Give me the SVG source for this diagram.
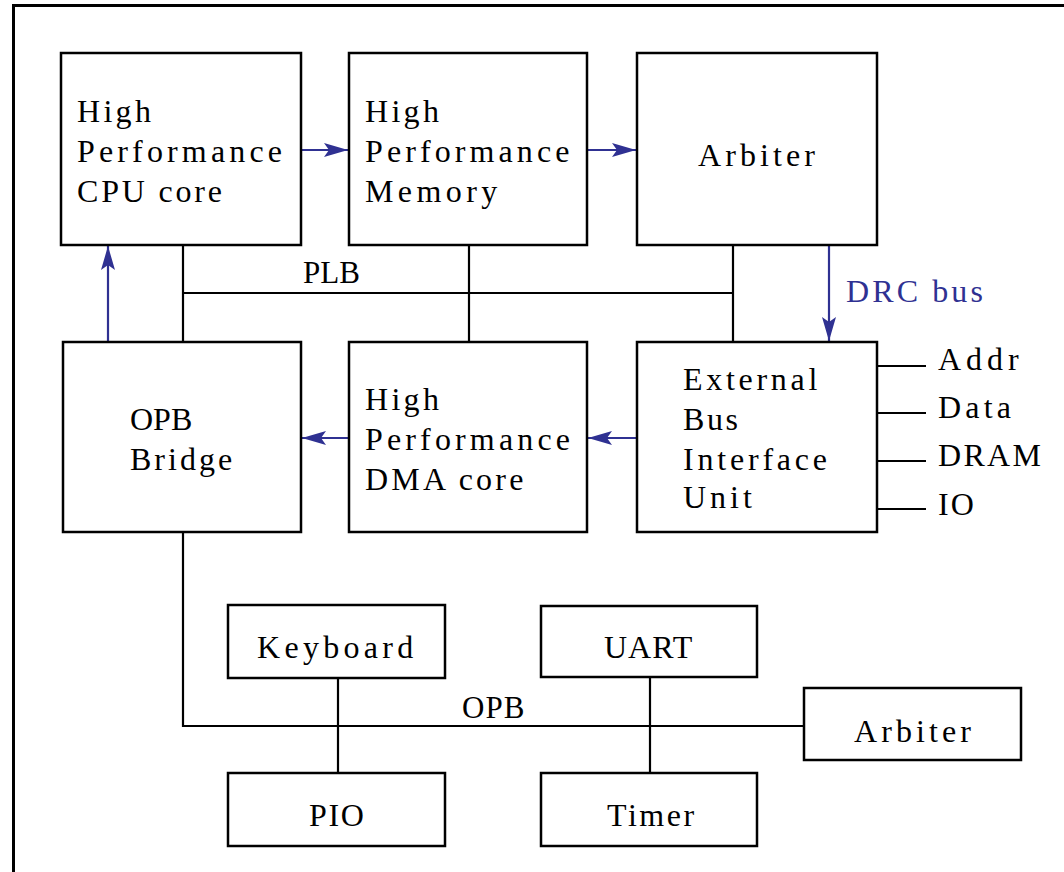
<svg xmlns="http://www.w3.org/2000/svg" width="1064" height="872" viewBox="0 0 1064 872">
<defs>
<style>
.box{fill:#fff;stroke:#000;stroke-width:2.5}
.ln{fill:none;stroke:#000;stroke-width:2.2}
.bl{fill:none;stroke:#2f3192;stroke-width:2.2}
</style>
<marker id="ah" viewBox="0 0 24 14" refX="24" refY="7" markerWidth="24" markerHeight="14" orient="auto" markerUnits="userSpaceOnUse">
<path d="M0,0 L24,7 L0,14 L5,7 Z" fill="#2f3192"/>
</marker>
</defs>
<rect x="0" y="0" width="1064" height="872" fill="#fff"/>
<rect x="13.5" y="5.5" width="1100" height="900" fill="none" stroke="#000" stroke-width="3"/>

<g id="connectors">
<path class="ln" d="M183,245 V342 M469,245 V342 M733,245 V342 M183,293 H733"/>
<path class="ln" d="M183,532 V726 H804 M338,678 V773 M650,677 V773"/>
<path class="ln" d="M877,366 H926 M877,413 H926 M877,461 H926 M877,509 H926"/>
<path class="bl" d="M301,150 H348" marker-end="url(#ah)"/>
<path class="bl" d="M587,150 H636" marker-end="url(#ah)"/>
<path class="bl" d="M829,245 V341" marker-end="url(#ah)"/>
<path class="bl" d="M637,438 H588" marker-end="url(#ah)"/>
<path class="bl" d="M349,438 H302" marker-end="url(#ah)"/>
<path class="bl" d="M108,342 V246" marker-end="url(#ah)"/>
<text font-family="Liberation Serif, serif" font-size="31" x="303" y="283">PLB</text>
<text font-family="Liberation Serif, serif" font-size="31" x="462" y="718" letter-spacing="1">OPB</text>
<text font-family="Liberation Serif, serif" font-size="32" fill="#2f3192" x="846" y="302" letter-spacing="3.1">DRC bus</text>
<text font-family="Liberation Serif, serif" font-size="32" x="938" y="370" letter-spacing="5">Addr</text>
<text font-family="Liberation Serif, serif" font-size="32" x="938" y="418" letter-spacing="4.2">Data</text>
<text font-family="Liberation Serif, serif" font-size="32" x="938" y="466" letter-spacing="2.3">DRAM</text>
<text font-family="Liberation Serif, serif" font-size="32" x="938" y="515" letter-spacing="2">IO</text>
</g>

<g id="cpu">
<rect class="box" x="61" y="53" width="240" height="192"/>
<text font-family="Liberation Serif, serif" font-size="32" x="77" y="122" letter-spacing="3.3">High</text>
<text font-family="Liberation Serif, serif" font-size="32" x="77" y="162" letter-spacing="4.15">Performance</text>
<text font-family="Liberation Serif, serif" font-size="32" x="77" y="202" letter-spacing="2.8">CPU core</text>
</g>
<g id="memory">
<rect class="box" x="349" y="53" width="238" height="192"/>
<text font-family="Liberation Serif, serif" font-size="32" x="365" y="122" letter-spacing="3.3">High</text>
<text font-family="Liberation Serif, serif" font-size="32" x="365" y="162" letter-spacing="4.1">Performance</text>
<text font-family="Liberation Serif, serif" font-size="32" x="365" y="202" letter-spacing="4.4">Memory</text>
</g>
<g id="arbiter-plb">
<rect class="box" x="637" y="53" width="240" height="192"/>
<text font-family="Liberation Serif, serif" font-size="32" x="698" y="166" letter-spacing="4.1">Arbiter</text>
</g>
<g id="opb-bridge">
<rect class="box" x="63" y="342" width="238" height="190"/>
<text font-family="Liberation Serif, serif" font-size="32" x="130" y="430">OPB</text>
<text font-family="Liberation Serif, serif" font-size="32" x="130" y="470" letter-spacing="3">Bridge</text>
</g>
<g id="dma">
<rect class="box" x="349" y="342" width="238" height="190"/>
<text font-family="Liberation Serif, serif" font-size="32" x="365" y="410" letter-spacing="3.3">High</text>
<text font-family="Liberation Serif, serif" font-size="32" x="365" y="450" letter-spacing="4.15">Performance</text>
<text font-family="Liberation Serif, serif" font-size="32" x="365" y="490" letter-spacing="3.2">DMA core</text>
</g>
<g id="ebiu">
<rect class="box" x="637" y="342" width="240" height="190"/>
<text font-family="Liberation Serif, serif" font-size="32" x="683" y="390" letter-spacing="3.7">External</text>
<text font-family="Liberation Serif, serif" font-size="32" x="683" y="430" letter-spacing="2.6">Bus</text>
<text font-family="Liberation Serif, serif" font-size="32" x="683" y="470" letter-spacing="3.8">Interface</text>
<text font-family="Liberation Serif, serif" font-size="32" x="683" y="508" letter-spacing="4">Unit</text>
</g>
<g id="keyboard">
<rect class="box" x="228" y="605" width="217" height="73"/>
<text font-family="Liberation Serif, serif" font-size="32" x="257" y="658" letter-spacing="4.3">Keyboard</text>
</g>
<g id="pio">
<rect class="box" x="228" y="773" width="217" height="73"/>
<text font-family="Liberation Serif, serif" font-size="32" x="309" y="826" letter-spacing="1.7">PIO</text>
</g>
<g id="uart">
<rect class="box" x="541" y="606" width="216" height="71"/>
<text font-family="Liberation Serif, serif" font-size="32" x="604" y="658" letter-spacing="1">UART</text>
</g>
<g id="timer">
<rect class="box" x="541" y="773" width="216" height="73"/>
<text font-family="Liberation Serif, serif" font-size="32" x="607" y="826" letter-spacing="2.5">Timer</text>
</g>
<g id="arbiter-opb">
<rect class="box" x="804" y="688" width="217" height="72"/>
<text font-family="Liberation Serif, serif" font-size="32" x="854" y="742" letter-spacing="4.1">Arbiter</text>
</g>
</svg>
